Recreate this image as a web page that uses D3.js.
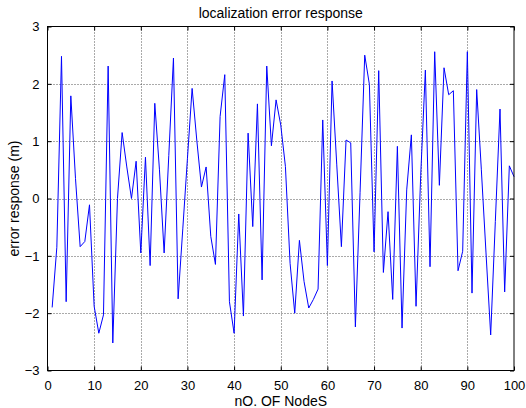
<!DOCTYPE html>
<html>
<head>
<meta charset="utf-8">
<script src="https://cdn.jsdelivr.net/npm/d3@7"></script>
<style>
  html, body { margin: 0; padding: 0; background: #fff; }
  svg { display: block; }
  text { font-family: "Liberation Sans", Arial, Helvetica, sans-serif; fill: #000; }
</style>
</head>
<body>
<svg id="chart" width="526" height="408"></svg>
<script>
// Node index and localization error per node
const nodes = d3.range(1, 101);
const errors = [
  -1.90, -0.85, 2.48, -1.80, 1.79, 0.35, -0.84, -0.75, -0.11, -1.88,
  -2.35, -2.03, 2.31, -2.52, 0.00, 1.15, 0.55, 0.00, 0.65, -0.95,
  0.72, -1.17, 1.66, 0.50, -0.95, 0.75, 2.45, -1.75, -0.53, 0.70,
  1.92, 1.02, 0.20, 0.55, -0.66, -1.15, 1.43, 2.16, -1.80, -2.35,
  -0.27, -2.05, 1.14, -0.49, 1.65, -1.42, 2.31, 0.92, 1.72, 1.28,
  0.56, -1.13, -2.00, -0.73, -1.45, -1.91, -1.76, -1.58, 1.37, -1.17,
  2.05, 0.60, -0.84, 1.02, 0.97, -2.24, 0.10, 2.50, 1.99, -0.93,
  2.23, -1.29, -0.23, -1.76, 0.91, -2.26, 0.15, 1.11, -1.88, 0.40,
  2.24, -1.19, 2.56, 0.23, 2.28, 1.81, 1.88, -1.26, -0.92, 2.56,
  -1.65, 1.90, 0.50, -0.95, -2.38, -0.40, 1.56, -1.63, 0.57, 0.38
];
const xTicks = [0, 10, 20, 30, 40, 50, 60, 70, 80, 90, 100];
const yTicks = [-3, -2, -1, 0, 1, 2, 3];

const titleText = "localization error response";
const xLabel = "nO. OF NodeS";
const yLabel = "error response (m)";

const svg = d3.select("#chart");
const plotL = 47.5, plotR = 514, plotT = 26.5, plotB = 370.5;

const x = d3.scaleLinear().domain([0, 100]).range([plotL, plotR]);
const y = d3.scaleLinear().domain([-3, 3]).range([plotB, plotT]);

// dotted grid
const grid = svg.append("g").attr("stroke", "#555").attr("stroke-width", 1)
  .attr("stroke-dasharray", "1,2");
grid.selectAll(".gx").data(xTicks.slice(1, -1)).enter().append("line")
  .attr("x1", d => Math.round(x(d)) + 0.5).attr("x2", d => Math.round(x(d)) + 0.5)
  .attr("y1", plotT).attr("y2", plotB);
grid.selectAll(".gy").data(yTicks.slice(1, -1)).enter().append("line")
  .attr("y1", d => Math.round(y(d)) + 0.5).attr("y2", d => Math.round(y(d)) + 0.5)
  .attr("x1", plotL).attr("x2", plotR);

// data line
const line = d3.line().x((d, i) => x(nodes[i])).y(d => y(d));
svg.append("path").datum(errors)
  .attr("fill", "none").attr("stroke", "#0000ff").attr("stroke-width", 1)
  .attr("d", line);

// axes with inward ticks on all four sides
const tickLen = 4;
const fmt = d3.format("d");
const gB = svg.append("g").attr("transform", `translate(0,${plotB})`)
  .call(d3.axisBottom(x).tickValues(xTicks).tickFormat(fmt).tickSizeInner(-tickLen).tickSizeOuter(0).tickPadding(10));
const gT = svg.append("g").attr("transform", `translate(0,${plotT})`)
  .call(d3.axisTop(x).tickValues(xTicks).tickFormat("").tickSizeInner(-tickLen).tickSizeOuter(0));
const gL = svg.append("g").attr("transform", `translate(${plotL},0)`)
  .call(d3.axisLeft(y).tickValues(yTicks).tickFormat(fmt).tickSizeInner(-tickLen).tickSizeOuter(0).tickPadding(8));
const gR = svg.append("g").attr("transform", `translate(${plotR},0)`)
  .call(d3.axisRight(y).tickValues(yTicks).tickFormat("").tickSizeInner(-tickLen).tickSizeOuter(0));

[gB, gT, gL, gR].forEach(g => {
  g.select(".domain").remove();
  g.selectAll("line").attr("stroke", "#000");
  g.selectAll("text").attr("font-size", 13)
    .attr("font-family", "Liberation Sans, Arial, sans-serif").attr("fill", "#000");
});

// frame
svg.append("rect").attr("x", plotL).attr("y", plotT)
  .attr("width", plotR - plotL).attr("height", plotB - plotT)
  .attr("fill", "none").attr("stroke", "#000").attr("stroke-width", 1);

// titles
svg.append("text").attr("x", (plotL + plotR) / 2).attr("y", 18)
  .attr("text-anchor", "middle").attr("font-size", 14).text(titleText);
svg.append("text").attr("x", (plotL + plotR) / 2).attr("y", 406)
  .attr("text-anchor", "middle").attr("font-size", 14).text(xLabel);
svg.append("text").attr("transform", `translate(19,${(plotT + plotB) / 2}) rotate(-90)`)
  .attr("text-anchor", "middle").attr("font-size", 14).text(yLabel);
</script>
</body>
</html>
